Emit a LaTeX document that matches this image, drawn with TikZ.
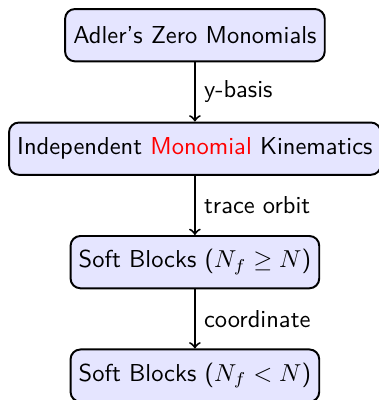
\documentclass[tikz,border=0pt]{standalone}
\usepackage{amsmath,amssymb}
\usepackage{tikz}
\usetikzlibrary{positioning}
\usepackage{xcolor}

\begin{document}
\begin{tikzpicture}[node distance=0.85cm,
box/.style={rectangle,rounded corners,draw,thick,fill=blue!10,align=center,minimum height=0.75cm,font=\sffamily},
arrow/.style={->,thick},
lbl/.style={right,font=\sffamily}]
\node[box](adler){Adler's Zero Monomials};
\node[box,below=of adler](indep){Independent \textcolor{red}{Monomial} Kinematics};
\node[box,below=of indep](softA){Soft Blocks ($N_f \geq N$)};
\node[box,below=of softA](softB){Soft Blocks ($N_f < N$)};
\draw[arrow](adler)--node[lbl]{y-basis}(indep);
\draw[arrow](indep)--node[lbl]{trace orbit}(softA);
\draw[arrow](softA)--node[lbl]{coordinate}(softB);
\coordinate (tl) at (indep.west |- adler.north);
\pgfresetboundingbox
\path[use as bounding box]([shift={(-3.3pt,3.3pt)}]tl) rectangle ++(154.7pt,-163.3pt);
\end{tikzpicture}
\end{document}
